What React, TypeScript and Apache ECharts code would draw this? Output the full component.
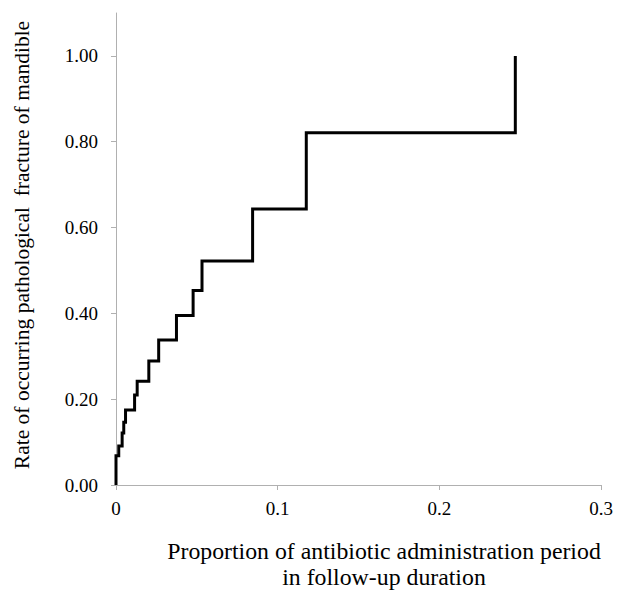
import React, { useEffect, useRef } from "react";
import * as echarts from "echarts";

// Step points: [proportion of antibiotic period, cumulative rate]
const stepX = [0, 0, 0.0017, 0.0038, 0.0048, 0.0059, 0.0115, 0.0131, 0.0203, 0.0264, 0.0374, 0.0477, 0.0532, 0.0845, 0.1177, 0.247];
const stepY = [0, 0.068, 0.091, 0.121, 0.146, 0.175, 0.21, 0.242, 0.289, 0.338, 0.395, 0.453, 0.522, 0.643, 0.821, 1.0];
const yTicks = [0, 0.2, 0.4, 0.6, 0.8, 1.0];
const yTitle = "Rate of occurring pathological  fracture of mandible";
const xTitle = ["Proportion of antibiotic administration period", "in follow-up duration"];

const FONT = "Liberation Serif";

export default function App() {
  const ref = useRef<HTMLDivElement>(null);
  useEffect(() => {
    if (!ref.current) return;
    const chart = echarts.init(ref.current, null, { renderer: "svg" });
    const data = stepX.map((x, i) => [x, stepY[i]]);
    chart.setOption({
      animation: false,
      backgroundColor: "#ffffff",
      textStyle: { fontFamily: FONT, fontSize: 19, color: "#000" },
      grid: { left: 116, right: 31, top: 13, bottom: 105, containLabel: false },
      xAxis: {
        type: "value",
        min: 0,
        max: 0.3,
        interval: 0.1,
        splitLine: { show: false },
        axisLine: { show: true, lineStyle: { color: "#b0b0b0", width: 1 } },
        axisTick: { show: true, length: 5, lineStyle: { color: "#b0b0b0" } },
        axisLabel: {
          color: "#000",
          fontFamily: FONT,
          fontSize: 19,
          margin: 14,
          formatter: (v: number) => (v === 0 ? "0" : String(Math.round(v * 10) / 10)),
        },
      },
      yAxis: {
        type: "value",
        min: 0,
        max: 1.1,
        interval: 0.2,
        splitLine: { show: false },
        axisLine: { show: true, lineStyle: { color: "#b0b0b0", width: 1 } },
        axisTick: { show: true, length: 5, lineStyle: { color: "#b0b0b0" }, customValues: yTicks },
        axisLabel: {
          color: "#000",
          fontFamily: FONT,
          fontSize: 19,
          margin: 18,
          showMaxLabel: false,
          formatter: (v: number) => (v > 1.05 ? "" : v.toFixed(2)),
        },
      },
      series: [
        {
          type: "line",
          step: "end",
          data,
          showSymbol: false,
          symbol: "none",
          lineStyle: { color: "#000", width: 3, join: "miter", cap: "butt" },
        },
      ],
      graphic: [
        {
          type: "text",
          x: 22,
          y: 245,
          rotation: Math.PI / 2,
          style: {
            text: yTitle,
            fontFamily: FONT,
            fontSize: 21.5,
            fill: "#000",
            align: "center",
            verticalAlign: "middle",
          },
        },
        {
          type: "text",
          x: 384,
          y: 551,
          style: {
            text: xTitle[0],
            fontFamily: FONT,
            fontSize: 23.8,
            fill: "#000",
            align: "center",
            verticalAlign: "middle",
          },
        },
        {
          type: "text",
          x: 384,
          y: 577,
          style: {
            text: xTitle[1],
            fontFamily: FONT,
            fontSize: 23.8,
            fill: "#000",
            align: "center",
            verticalAlign: "middle",
          },
        },
      ],
    });
    return () => chart.dispose();
  }, []);
  return <div ref={ref} style={{ width: 632, height: 590, position: "absolute", left: 0, top: 0 }} />;
}
